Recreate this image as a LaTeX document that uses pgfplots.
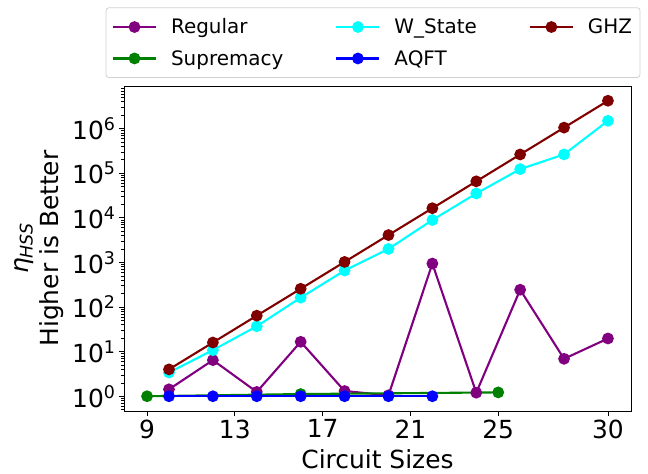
\documentclass[border=0pt]{standalone}
\usepackage{fontspec}
\setmainfont{DejaVu Sans}
\usepackage{pgfplots}
\pgfplotsset{compat=1.18}
\definecolor{mpurple}{RGB}{128,0,128}
\definecolor{mgreen}{RGB}{0,128,0}
\definecolor{mcyan}{RGB}{0,255,255}
\definecolor{mblue}{RGB}{0,0,255}
\definecolor{mmaroon}{RGB}{128,0,0}
\pgfplotsset{
  ser/.style={color=#1, line width=2.1bp, mark=*, mark size=4.8bp, mark options={solid, fill=#1, draw=#1}},
}
\begin{document}
\begin{tikzpicture}
\useasboundingbox (-124bp,-63bp) rectangle (524bp,411bp);
\begin{axis}[
  at={(0,0)}, anchor=south west,
  scale only axis, width=507bp, height=325bp,
  ymode=log,
  xmin=7.95, xmax=31.05, ymin=0.467, ymax=8.98e6,
  xtick={9,13,17,21,25,30},
  ytick={1,10,100,1000,10000,100000,1000000},
  yticklabels={10\textsuperscript{0},10\textsuperscript{1},10\textsuperscript{2},10\textsuperscript{3},10\textsuperscript{4},10\textsuperscript{5},10\textsuperscript{6}},
  minor ytick={0.5,0.6,0.7,0.8,0.9,2,3,4,5,6,7,8,9,20,30,40,50,60,70,80,90,200,300,400,500,600,700,800,900,2000,3000,4000,5000,6000,7000,8000,9000,2e4,3e4,4e4,5e4,6e4,7e4,8e4,9e4,2e5,3e5,4e5,5e5,6e5,7e5,8e5,9e5,2e6,3e6,4e6,5e6,6e6,7e6,8e6},
  tick align=outside, xtick pos=bottom, ytick pos=left,
  major tick length=5bp, minor tick length=3bp,
  every tick/.style={black, line width=0.8bp},
  minor tick style={black, line width=0.6bp},
  axis line style={line width=0.8bp},
  ticklabel style={font=\fontsize{25}{30}\selectfont},
  /pgf/number format/assume math mode=true,
  label style={font=\fontsize{25}{30}\selectfont},
  xlabel={Circuit Sizes},
  xlabel style={yshift=-4bp},
  ylabel={{\itshape η}\textsubscript{\itshape HSS}\\Higher is Better},
  ylabel style={align=center, yshift=2bp},
  legend columns=3,
  legend cell align=left,
  legend image code/.code={\draw[#1, mark repeat=2, mark phase=2] plot coordinates {(0bp,0bp) (21.5bp,0bp) (43bp,0bp)};},
  legend style={at={(0.5,1)}, anchor=south, yshift=8bp, xshift=-4.5bp,
    draw=black!18, rounded corners=3bp, line width=0.8bp,
    font=\fontsize{20}{24}\selectfont,
    inner xsep=6bp, inner ysep=9bp, row sep=11bp,
    /tikz/every even column/.append style={column sep=50bp},
    /tikz/every odd column/.append style={column sep=12bp},
    mark options={mark size=4.2bp}},
]
\addlegendimage{ser=mpurple}\addlegendentry{Regular}
\addlegendimage{ser=mcyan}\addlegendentry{W\_State}
\addlegendimage{ser=mmaroon}\addlegendentry{GHZ}
\addlegendimage{ser=mgreen}\addlegendentry{Supremacy}
\addlegendimage{ser=mblue}\addlegendentry{AQFT}

\addplot[ser=mpurple, forget plot] coordinates {
(10,1.43) (12,6.45) (14,1.25) (16,16.6) (18,1.31) (20,1.05) (22,942) (24,1.2) (26,244) (28,6.9) (30,19.7)};
\addplot[ser=mgreen, forget plot] coordinates {
(9,1.0) (16,1.12) (25,1.22)};
\addplot[ser=mcyan, forget plot] coordinates {
(10,3.4) (12,10.8) (14,37) (16,162) (18,657) (20,2000) (22,8900) (24,35000) (26,123000) (28,263000) (30,1490000)};
\addplot[ser=mblue, forget plot] coordinates {
(10,1) (12,1) (14,1) (16,1) (18,1) (20,1) (22,1)};
\addplot[ser=mmaroon, forget plot] coordinates {
(10,4) (12,16) (14,64) (16,256) (18,1024) (20,4096) (22,16384) (24,65536) (26,262144) (28,1048576) (30,4194304)};
\end{axis}
\end{tikzpicture}
\end{document}
